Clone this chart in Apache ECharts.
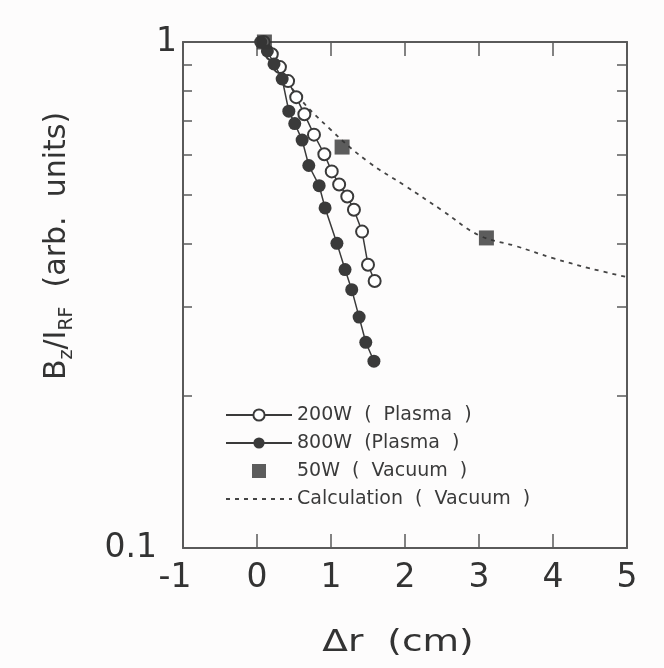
<!DOCTYPE html>
<html>
<head>
<meta charset="utf-8">
<script src="https://cdn.jsdelivr.net/npm/echarts@6/dist/echarts.min.js"></script>
<style>
  html, body { margin: 0; padding: 0; background: #fdfcfc; }
  #chart { width: 664px; height: 668px; }
</style>
</head>
<body>
<div id="chart"></div>
<script>
// Axis tick labels
const xTickLabels = [-1, 0, 1, 2, 3, 4, 5];
const yTickLabels = [0.1, 1];
const yMinorTicks = [0.2, 0.3, 0.4, 0.5, 0.6, 0.7, 0.8, 0.9];

// 200 W plasma (open circles)
const plasma200X = [0.09, 0.20, 0.31, 0.42, 0.53, 0.64, 0.77, 0.91, 1.01, 1.11, 1.22, 1.31, 1.42, 1.50, 1.59];
const plasma200Y = [1.00, 0.946, 0.892, 0.837, 0.778, 0.72, 0.656, 0.60, 0.555, 0.523, 0.495, 0.466, 0.422, 0.363, 0.337];

// 800 W plasma (filled circles)
const plasma800X = [0.05, 0.14, 0.23, 0.34, 0.43, 0.51, 0.61, 0.70, 0.84, 0.92, 1.08, 1.19, 1.28, 1.38, 1.47, 1.58];
const plasma800Y = [1.00, 0.96, 0.905, 0.845, 0.73, 0.69, 0.64, 0.57, 0.52, 0.47, 0.40, 0.355, 0.324, 0.286, 0.255, 0.234];

// 50 W vacuum (filled squares)
const vacuumX = [0.10, 1.15, 3.10];
const vacuumY = [1.00, 0.62, 0.41];

// Calculated vacuum profile (dashed curve)
const calcX = [0.10, 0.50, 1.00, 1.50, 2.00, 2.50, 3.00, 3.50, 4.00, 4.50, 5.00];
const calcY = [1.00, 0.80, 0.67, 0.58, 0.52, 0.465, 0.415, 0.395, 0.374, 0.357, 0.343];

const seriesNames = ['200W  (  Plasma  )', '800W  (Plasma  )', '50W  (  Vacuum  )', 'Calculation  (  Vacuum  )'];

const pairs = (xs, ys) => xs.map((x, i) => [x, ys[i]]);

const ink = '#3a3a3a';
const frame = '#5a5a5a';
const tickFont = 'DejaVu Sans';

const chart = echarts.init(document.getElementById('chart'), null, { renderer: 'canvas' });

chart.setOption({
  backgroundColor: '#fdfcfc',
  animation: false,
  grid: { left: 183, right: 37, top: 42, bottom: 120, containLabel: false },
  xAxis: [
    {
      type: 'value', min: -1, max: 5, interval: 1,
      axisLine: { show: true, onZero: false, lineStyle: { color: frame, width: 2 } },
      axisTick: { show: true, inside: true, length: 14, lineStyle: { color: frame, width: 1.5 } },
      axisLabel: {
        show: true, margin: 14, color: '#333', fontFamily: tickFont, fontSize: 33,
        customValues: xTickLabels,
        // the first label sits a little left of its tick so it clears the 0.1 label
        formatter: v => (v === -1 ? '{m|-1}' : String(v)),
        rich: { m: { fontFamily: tickFont, fontSize: 33, color: '#333', padding: [0, 16, 0, 0] } }
      },
      splitLine: { show: false }
    },
    {
      type: 'value', position: 'top', min: -1, max: 5, interval: 1,
      axisLine: { show: true, onZero: false, lineStyle: { color: frame, width: 2 } },
      axisTick: { show: true, inside: true, length: 14, lineStyle: { color: frame, width: 1.5 } },
      axisLabel: { show: false },
      splitLine: { show: false }
    }
  ],
  yAxis: [
    {
      type: 'log', logBase: 10, min: 0.1, max: 1,
      axisLine: { show: true, onZero: false, lineStyle: { color: frame, width: 2 } },
      axisTick: { show: true, inside: true, length: 9, customValues: yMinorTicks, lineStyle: { color: frame, width: 1.5 } },
      axisLabel: {
        show: true, margin: 6, color: '#333', fontFamily: tickFont, fontSize: 33,
        customValues: yTickLabels,
        formatter: v => {
          const s = String(Number(v.toPrecision(3)));
          return s === '0.1' ? '{b|0.1}' : s;
        },
        rich: { b: { fontFamily: tickFont, fontSize: 33, color: '#333', padding: [0, 20, 0, 0] } }
      },
      minorTick: { show: false },
      splitLine: { show: false }
    },
    {
      type: 'log', logBase: 10, min: 0.1, max: 1, position: 'right',
      axisLine: { show: true, onZero: false, lineStyle: { color: frame, width: 2 } },
      axisTick: { show: true, inside: true, length: 10, customValues: yMinorTicks, lineStyle: { color: frame, width: 1.5 } },
      axisLabel: { show: false },
      splitLine: { show: false }
    }
  ],
  legend: {
    orient: 'vertical',
    left: 220, top: 400,
    itemWidth: 66, itemHeight: 14, itemGap: 8,
    symbolKeepAspect: true,
    textStyle: { fontFamily: 'DejaVu Sans', fontSize: 19, lineHeight: 20, color: '#3a3a3a' },
    data: [
      { name: seriesNames[0] },
      { name: seriesNames[1] },
      { name: seriesNames[2], icon: 'path://M0,0L10,0L10,10L0,10Z' },
      { name: seriesNames[3], itemStyle: { opacity: 0 } }
    ]
  },
  series: [
    {
      name: seriesNames[0], type: 'line', clip: false,
      data: pairs(plasma200X, plasma200Y),
      symbol: 'emptyCircle', symbolSize: 12,
      lineStyle: { color: ink, width: 1.5 },
      itemStyle: { color: ink, borderWidth: 1.6 },
      z: 3
    },
    {
      name: seriesNames[1], type: 'line', clip: false,
      data: pairs(plasma800X, plasma800Y),
      symbol: 'circle', symbolSize: 13,
      lineStyle: { color: ink, width: 1.5 },
      itemStyle: { color: ink },
      z: 4
    },
    {
      name: seriesNames[2], type: 'scatter', clip: false,
      data: pairs(vacuumX, vacuumY),
      symbol: 'rect', symbolSize: 15, symbolKeepAspect: true,
      itemStyle: { color: '#333' },
      z: 5
    },
    {
      name: seriesNames[3], type: 'line', clip: false,
      data: pairs(calcX, calcY),
      smooth: 0.4, showSymbol: false, symbol: 'none',
      lineStyle: { color: '#444', width: 1.8, type: [4, 5] },
      itemStyle: { color: '#444' },
      z: 2
    }
  ],
  graphic: [
    {
      type: 'text', x: 57, y: 246, rotation: Math.PI / 2,
      style: {
        text: 'B{s|z}/I{s|RF}  (arb.  units)',
        fontFamily: 'DejaVu Sans', fontSize: 30, lineHeight: 40, fill: '#333',
        align: 'center', verticalAlign: 'middle',
        rich: { s: { fontFamily: 'DejaVu Sans', fontSize: 19, lineHeight: 19, verticalAlign: 'bottom', fill: '#333' } }
      }
    },
    {
      type: 'text', x: 398, y: 643, scaleX: 1.25,
      style: {
        text: 'Δr  (cm)',
        fontFamily: 'DejaVu Sans', fontSize: 30, fill: '#333',
        align: 'center', verticalAlign: 'middle'
      }
    }
  ]
});
</script>
</body>
</html>
